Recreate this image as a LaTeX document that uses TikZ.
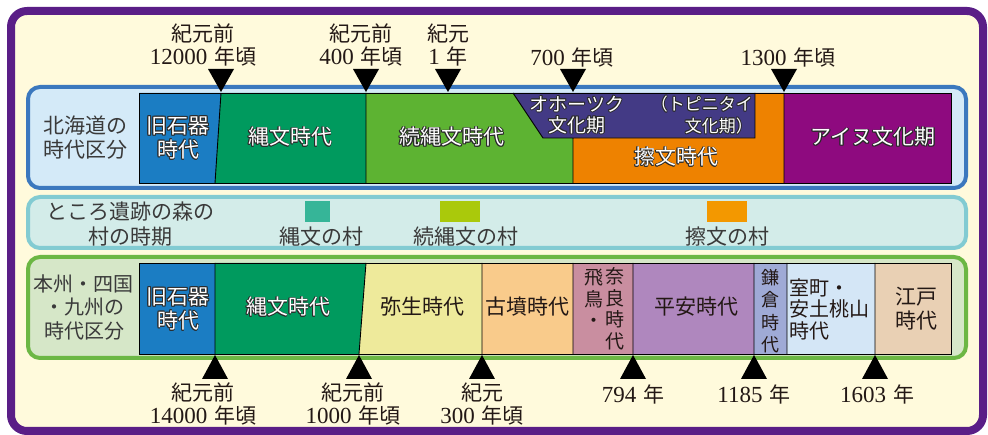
\documentclass[tikz,border=0pt]{standalone}
\usepackage{fontspec}
\newfontfamily\jp{Noto Sans CJK JP}
\newfontfamily\digf{Liberation Serif}
\definecolor{frame}{HTML}{5A1E87}
\definecolor{cream}{HTML}{FFFADC}
\definecolor{hkline}{HTML}{3B78BE}
\definecolor{hkfill}{HTML}{D4EAF8}
\definecolor{tkline}{HTML}{82CBD2}
\definecolor{tkfill}{HTML}{D3ECE9}
\definecolor{hsline}{HTML}{6CB744}
\definecolor{hsfill}{HTML}{D6E7C8}
\definecolor{cKyu}{HTML}{1B7DC3}
\definecolor{cJomon}{HTML}{009A5E}
\definecolor{cZoku}{HTML}{5DB332}
\definecolor{cOkh}{HTML}{433A85}
\definecolor{cSatsu}{HTML}{EE8200}
\definecolor{cAinu}{HTML}{8E0A7F}
\definecolor{cYayoi}{HTML}{EEEA9B}
\definecolor{cKofun}{HTML}{F9CB8B}
\definecolor{cAsuka}{HTML}{C98EA0}
\definecolor{cHeian}{HTML}{AF87BE}
\definecolor{cKama}{HTML}{9FAAD6}
\definecolor{cMuro}{HTML}{D4E6F6}
\definecolor{cEdo}{HTML}{E9D0B4}
\definecolor{lgTeal}{HTML}{36B598}
\definecolor{lgLime}{HTML}{AAC90B}
\definecolor{lgOrange}{HTML}{F39800}
\definecolor{ink}{HTML}{231815}
\definecolor{lab}{HTML}{3A3A3A}
\definecolor{olc}{HTML}{2A2A2A}
\newlength\olw \setlength\olw{0.9pt}
\newcommand\olcopy[2]{\rlap{\kern#1\raise#2\copy0}}
\newcommand\ow[1]{{\setbox0=\hbox{#1}\color{olc}%
\olcopy{\olw}{0pt}\olcopy{-\olw}{0pt}\olcopy{0pt}{\olw}\olcopy{0pt}{-\olw}%
\olcopy{.7\olw}{.7\olw}\olcopy{-.7\olw}{.7\olw}\olcopy{.7\olw}{-.7\olw}\olcopy{-.7\olw}{-.7\olw}%
\color{white}\copy0}}
\newcommand\dg[1]{{\digf\fontsize{23pt}{23pt}\selectfont #1}\hspace{7pt}}
\begin{document}
\begin{tikzpicture}[x=1pt,y=-1pt,
  txt/.style={font=\jp\fontsize{21pt}{24pt}\selectfont, text=ink, align=center, inner sep=0pt},
  lbl/.style={txt, text=lab},
  datelbl/.style={txt, font=\jp\fontsize{21pt}{23pt}\selectfont},
  barline/.style={draw=black, line width=0.9pt},
  marker/.style={fill=black},
  legend/.style={inner sep=0pt}]
\useasboundingbox (0,0) rectangle (988,435);
\fill[white] (0,0) rectangle (988,435);
\draw[line width=8pt, draw=frame, fill=cream, rounded corners=16pt] (11,11) rectangle (983,431);
% boxes
\draw[line width=4pt, draw=hkline, fill=hkfill, rounded corners=12pt] (28,87) rectangle (966,188);
\draw[line width=4pt, draw=tkline, fill=tkfill, rounded corners=12pt] (28,197) rectangle (966,248);
\draw[line width=4pt, draw=hsline, fill=hsfill, rounded corners=12pt] (28,257) rectangle (966,358);
% Hokkaido bar
\fill[cKyu] (139,93) -- (221,93) -- (215,183) -- (139,183) -- cycle;
\fill[cJomon] (221,93) -- (366,93) -- (366,183) -- (215,183) -- cycle;
\fill[cZoku] (366,93) -- (513,93) -- (543,138) -- (573,138) -- (573,183) -- (366,183) -- cycle;
\fill[cOkh] (513,93) -- (755,93) -- (755,138) -- (543,138) -- cycle;
\fill[cSatsu] (755,93) -- (784,93) -- (784,183) -- (573,183) -- (573,138) -- (755,138) -- cycle;
\fill[cAinu] (784,93) rectangle (951,183);
\draw[barline] (139,93) rectangle (951,183);
\draw[barline] (221,93) -- (215,183) (366,93) -- (366,183)
  (513,93) -- (543,138) -- (755,138) -- (755,93) (573,138) -- (573,183) (784,93) -- (784,183);
% Honshu bar
\fill[cKyu] (139,263) rectangle (215,354);
\fill[cJomon] (215,263) -- (366,263) -- (359,354) -- (215,354) -- cycle;
\fill[cYayoi] (366,263) -- (482,263) -- (482,354) -- (359,354) -- cycle;
\fill[cKofun] (482,263) rectangle (573,354);
\fill[cAsuka] (573,263) rectangle (633,354);
\fill[cHeian] (633,263) rectangle (754,354);
\fill[cKama] (754,263) rectangle (787,354);
\fill[cMuro] (787,263) rectangle (875,354);
\fill[cEdo] (875,263) rectangle (951,354);
\draw[barline] (139,263) rectangle (951,354);
\draw[barline] (215,263) -- (215,354) (366,263) -- (359,354) (482,263) -- (482,354)
  (573,263) -- (573,354) (633,263) -- (633,354) (754,263) -- (754,354)
  (787,263) -- (787,354) (875,263) -- (875,354);
% markers
\foreach \p in {221,366,448,573,784}
  \fill[marker] (\p-13,69) -- (\p+13,69) -- (\p,92) -- cycle;
\foreach \p in {215,359,482,633,754,875}
  \fill[marker] (\p-13,379) -- (\p+13,379) -- (\p,355) -- cycle;
% top dates
\node[datelbl] (t1) at (203,45) {紀元前\\\dg{12000}年頃};
\node[datelbl] (t2) at (361,45) {紀元前\\\dg{400}年頃};
\node[datelbl] (t3) at (448,45) {紀元\\\dg{1}年};
\node[datelbl] (t4) at (572,57) {\dg{700}年頃};
\node[datelbl] (t5) at (788,57) {\dg{1300}年頃};
% bottom dates
\node[datelbl] (b1) at (203,404) {紀元前\\\dg{14000}年頃};
\node[datelbl] (b2) at (353,404) {紀元前\\\dg{1000}年頃};
\node[datelbl] (b3) at (482,404) {紀元\\\dg{300}年頃};
\node[datelbl] (b4) at (633,394) {\dg{794}年};
\node[datelbl] (b5) at (754,394) {\dg{1185}年};
\node[datelbl] (b6) at (877,394) {\dg{1603}年};
% Hokkaido texts
\node[lbl] (hkl) at (85,138) {北海道の\\時代区分};
\node[txt] (hk1) at (178,138) {\ow{旧石器}\\\ow{時代}};
\node[txt] (hk2) at (290,137) {\ow{縄文時代}};
\node[txt] (hk3) at (452,137) {\ow{続縄文時代}};
\node[txt, font=\jp\fontsize{19pt}{21pt}\selectfont] (hk4) at (577,115) {\ow{オホーツク}\\\ow{文化期}};
\node[txt, font=\jp\fontsize{17pt}{22pt}\selectfont, align=right, anchor=east] (hk5) at (753,115) {\ow{（トピニタイ}\\\ow{文化期）}};
\node[txt] (hk6) at (676,157) {\ow{擦文時代}};
\node[txt] (hk7) at (873,137) {\ow{アイヌ文化期}};
% Tokoro row
\node[lbl, font=\jp\fontsize{21pt}{25pt}\selectfont] (tk) at (130,224) {ところ遺跡の森の\\村の時期};
\fill[lgTeal] (305,201) rectangle (330,222);
\fill[lgLime] (440,201) rectangle (480,222);
\fill[lgOrange] (707,201) rectangle (747,222);
\node[lbl] (tk1) at (321,237) {縄文の村};
\node[lbl] (tk2) at (466,237) {続縄文の村};
\node[lbl] (tk3) at (727,237) {擦文の村};
% Honshu texts
\node[lbl, font=\jp\fontsize{20pt}{23.5pt}\selectfont] (hsl) at (84,307) {本州・四国\\・九州の\\時代区分};
\node[txt] (hs1) at (178,309) {\ow{旧石器}\\\ow{時代}};
\node[txt] (hs2) at (288,307) {\ow{縄文時代}};
\node[txt] (hs3) at (422,307) {弥生時代};
\node[txt] (hs4) at (527,307) {古墳時代};
\node[txt, font=\jp\fontsize{19pt}{21.5pt}\selectfont] (hs5a) at (594,298.5) {飛\\鳥\\・};
\node[txt, font=\jp\fontsize{19pt}{21.5pt}\selectfont] (hs5b) at (615,309) {奈\\良\\時\\代};
\node[txt] (hs6) at (696,307) {平安時代};
\node[txt, font=\jp\fontsize{18pt}{22.5pt}\selectfont] (hs7) at (770,311) {鎌\\倉\\時\\代};
\node[txt, font=\jp\fontsize{20pt}{21.5pt}\selectfont, align=left, anchor=west] (hs8) at (789,309) {室町・\\安土桃山\\時代};
\node[txt] (hs9) at (916,309) {江戸\\時代};
\end{tikzpicture}
\end{document}
